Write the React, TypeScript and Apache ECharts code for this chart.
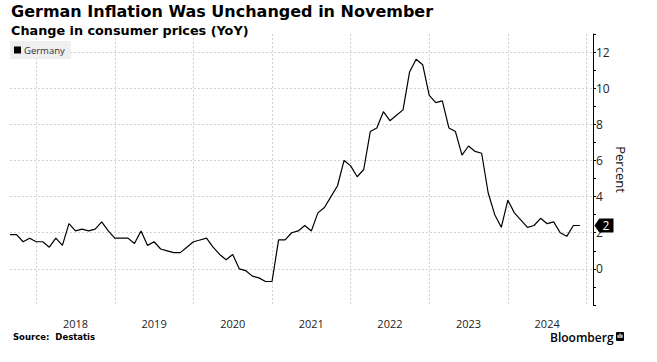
import React, { useEffect, useRef } from "react";
import * as echarts from "echarts";

// German inflation, YoY %, monthly (Aug 2017 – Nov 2024)
const cpi2017 = [1.9, 1.9, 1.5, 1.7, 1.5]; // Aug–Dec
const cpi2018 = [1.5, 1.2, 1.7, 1.3, 2.5, 2.1, 2.2, 2.1, 2.2, 2.6, 2.1, 1.7];
const cpi2019 = [1.7, 1.7, 1.4, 2.1, 1.3, 1.5, 1.1, 1.0, 0.9, 0.9, 1.2, 1.5];
const cpi2020 = [1.6, 1.7, 1.2, 0.8, 0.5, 0.8, 0.0, -0.1, -0.4, -0.5, -0.7, -0.7];
const cpi2021 = [1.6, 1.6, 2.0, 2.1, 2.4, 2.1, 3.1, 3.4, 4.0, 4.6, 6.0, 5.7];
const cpi2022 = [5.1, 5.5, 7.6, 7.8, 8.7, 8.2, 8.5, 8.8, 10.9, 11.6, 11.3, 9.6];
const cpi2023 = [9.2, 9.3, 7.8, 7.6, 6.3, 6.8, 6.5, 6.4, 4.2, 3.0, 2.3, 3.8];
const cpi2024 = [3.1, 2.7, 2.3, 2.4, 2.8, 2.5, 2.6, 2.0, 1.8, 2.4, 2.4]; // Jan–Nov

const seriesName = "Germany";
const yTickLabels = [0, 2, 4, 6, 8, 10, 12];
const startYear = 2017;
const startMonth = 8; // August
const endYear = 2025;
const endMonth = 1; // axis runs to Jan 2025

const values: number[] = [
  ...cpi2017,
  ...cpi2018,
  ...cpi2019,
  ...cpi2020,
  ...cpi2021,
  ...cpi2022,
  ...cpi2023,
  ...cpi2024,
];

function buildCategories(): string[] {
  const out: string[] = [];
  let y = startYear;
  let m = startMonth;
  while (y < endYear || (y === endYear && m <= endMonth)) {
    out.push(`${y}-${String(m).padStart(2, "0")}`);
    m++;
    if (m > 12) {
      m = 1;
      y++;
    }
  }
  return out;
}

const categories = buildCategories();

const FONT = "'Open Sans', 'Noto Sans', sans-serif";
const BOLD_FONT = "'DejaVu Sans', Verdana, sans-serif";

export default function App() {
  const ref = useRef<HTMLDivElement>(null);

  useEffect(() => {
    if (!ref.current) return;
    const chart = echarts.init(ref.current, undefined, { renderer: "svg" });

    const yMin = -2;
    const yMax = 13;
    const ticks: number[] = [];
    for (let v = yMin; v <= yMax; v++) ticks.push(v);
    const splitColors = ticks.map((v) =>
      yTickLabels.includes(v) ? "#d2d2d2" : "rgba(0,0,0,0)"
    );

    const last = values[values.length - 1];

    chart.setOption({
      animation: false,
      backgroundColor: "#ffffff",
      title: {
        text: "German Inflation Was Unchanged in November",
        subtext: "Change in consumer prices (YoY)",
        left: 11,
        top: 3,
        padding: 0,
        itemGap: 5,
        textStyle: {
          fontFamily: BOLD_FONT,
          fontSize: 16,
          fontWeight: "bold",
          color: "#000",
        },
        subtextStyle: {
          fontFamily: BOLD_FONT,
          fontSize: 12.8,
          fontWeight: "bold",
          color: "#000",
        },
      },
      legend: {
        left: 10,
        top: 41,
        backgroundColor: "#efefef",
        padding: [4, 6, 4, 4],
        icon: "rect",
        itemWidth: 7,
        itemHeight: 7,
        itemGap: 4,
        textStyle: { fontFamily: FONT, fontSize: 9.5, color: "#333", padding: [0, 0, 0, -2] },
        data: [seriesName],
      },
      grid: {
        left: 10,
        right: 64,
        top: 34,
        bottom: 57,
        containLabel: false,
      },
      xAxis: {
        type: "category",
        data: categories,
        boundaryGap: false,
        axisLine: { show: false },
        axisTick: { show: false },
        axisLabel: {
          interval: (_i: number, v: string) => v.endsWith("-06"),
          formatter: (v: string) => v.slice(0, 4),
          margin: 13,
          fontFamily: FONT,
          fontSize: 11,
          color: "#222",
        },
        splitLine: {
          show: true,
          interval: (_i: number, v: string) => v.endsWith("-12"),
          lineStyle: { color: "#d2d2d2", type: [2, 2], width: 1 },
        },
      },
      yAxis: {
        type: "value",
        position: "right",
        min: yMin,
        max: yMax,
        interval: 1,
        axisLine: { show: true, lineStyle: { color: "#000", width: 1 } },
        axisTick: { show: true, length: 3, lineStyle: { color: "#000" } },
        axisLabel: {
          margin: 3,
          fontFamily: FONT,
          fontSize: 12,
          color: "#222",
          formatter: (v: number) => (yTickLabels.includes(v) ? String(v) : ""),
        },
        splitLine: {
          show: true,
          lineStyle: { color: splitColors, type: [2, 2], width: 1 },
        },
        name: "Percent",
        nameLocation: "middle",
        nameRotate: -90,
        nameGap: 21,
        nameMoveOverlap: false,
        nameTextStyle: { fontFamily: FONT, fontSize: 13, color: "#111" },
      },
      series: [
        {
          name: seriesName,
          type: "line",
          data: values,
          showSymbol: false,
          symbol: "none",
          color: "#000",
          lineStyle: { color: "#000", width: 1.2 },
          z: 5,
          markPoint: {
            silent: true,
            symbol: "path://M0,7 L6,0 L24,0 L24,14 L6,14 Z",
            symbolSize: [19, 14],
            symbolOffset: [11, 0],
            itemStyle: { color: "#000" },
            label: {
              show: true,
              position: "inside",
              offset: [2, 0],
              color: "#fff",
              fontFamily: FONT,
              fontSize: 12,
              formatter: (p: any) => String(Math.round(Number(p.value))),
            },
            data: [{ coord: [categories.length - 1, last], value: last }],
          },
        },
      ],
      graphic: [
        {
          type: "text",
          left: 13,
          top: 332,
          style: {
            text: "Source:  Destatis",
            font: `bold 8.5px ${BOLD_FONT}`,
            fill: "#000",
          },
        },
        {
          type: "text",
          left: 550,
          top: 331,
          style: {
            text: "Bloomberg",
            font: `600 12px ${FONT}`,
            lineHeight: 12,
            fill: "#000",
          },
        },
        {
          type: "group",
          left: 616,
          top: 332,
          children: [
            { type: "rect", shape: { x: 0, y: 0, width: 8, height: 9, r: 1 }, style: { fill: "#000" } },
            { type: "rect", shape: { x: 1.5, y: 3, width: 1.2, height: 3 }, style: { fill: "#fff" } },
            { type: "rect", shape: { x: 3.4, y: 1.5, width: 1.2, height: 4.5 }, style: { fill: "#fff" } },
            { type: "rect", shape: { x: 5.3, y: 2.5, width: 1.2, height: 3.5 }, style: { fill: "#fff" } },
          ],
        },
      ],
    });

    return () => chart.dispose();
  }, []);

  return (
    <div
      ref={ref}
      style={{ position: "fixed", left: 0, top: 0, width: 657, height: 362 }}
    />
  );
}
